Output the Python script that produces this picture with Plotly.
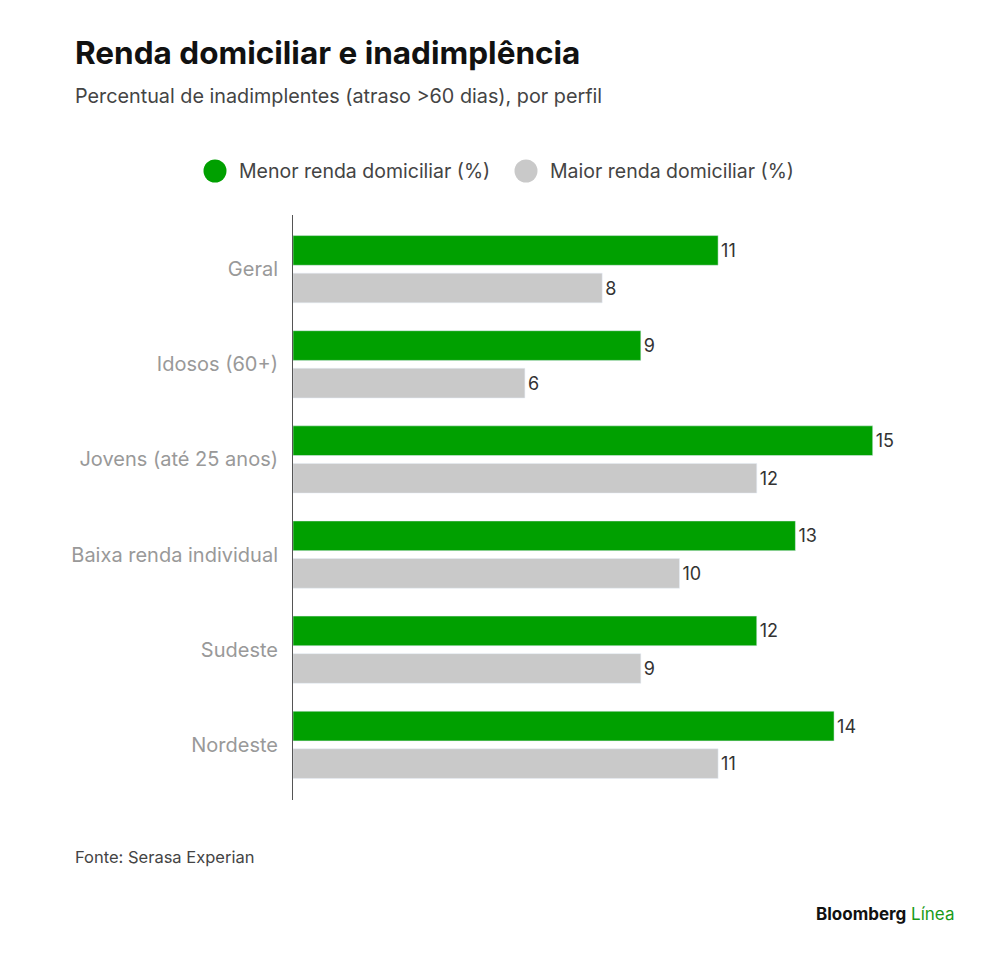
import plotly.graph_objects as go

perfis = ["Geral", "Idosos (60+)", "Jovens (até 25 anos)", "Baixa renda individual", "Sudeste", "Nordeste"]
menor_renda = [11, 9, 15, 13, 12, 14]
maior_renda = [8, 6, 12, 10, 9, 11]
series = ["Menor renda domiciliar (%)", "Maior renda domiciliar (%)"]

verde = "#00a000"
cinza = "#c9c9c9"
fonte = "Inter"

# área do gráfico em px (referência): x 293..950, y 215..800
def px_x(p):
    return (p - 293) / 657


def px_y(p):
    return 1 + (215 - p) / 585


fig = go.Figure()
fig.add_trace(go.Bar(y=perfis, x=menor_renda, orientation="h", marker_color=verde, name=series[0],
                     text=menor_renda, textposition="outside", cliponaxis=False,
                     textfont=dict(size=18, color="#333333"), showlegend=False))
fig.add_trace(go.Bar(y=perfis, x=maior_renda, orientation="h", marker_color=cinza, name=series[1],
                     text=maior_renda, textposition="outside", cliponaxis=False,
                     textfont=dict(size=18, color="#333333"), showlegend=False))

fig.update_layout(
    width=1000, height=958,
    plot_bgcolor="white", paper_bgcolor="white",
    font=dict(family=fonte, color="#333333"),
    margin=dict(l=285, r=58, t=207, b=166),
    barmode="group", bargap=0.21, bargroupgap=0.21,
    xaxis=dict(range=[0, 17], visible=False),
    yaxis=dict(type="category", categoryorder="array", categoryarray=perfis,
               range=[5.58, -0.57], showline=True, linecolor="#555555", linewidth=1,
               ticks="", ticklabelstandoff=10, showgrid=False,
               tickfont=dict(size=20, color="#999999")),
    showlegend=False,
)

# legenda desenhada à mão (círculos grandes)
for nome, cor, cx, tx in [(series[0], verde, 215, 237), (series[1], cinza, 526, 548)]:
    fig.add_shape(type="circle", xref="paper", yref="paper",
                  xsizemode="pixel", ysizemode="pixel",
                  xanchor=px_x(cx), yanchor=px_y(171),
                  x0=-11.5, x1=11.5, y0=-11.5, y1=11.5,
                  fillcolor=cor, line=dict(width=0))
    fig.add_annotation(text=nome, xref="paper", yref="paper", x=px_x(tx), y=px_y(171),
                       xanchor="left", yanchor="middle", showarrow=False,
                       font=dict(size=19.5, color="#444444"))

fig.add_annotation(text="<b>Renda domiciliar e inadimplência</b>", xref="paper", yref="paper",
                   x=px_x(73), y=px_y(52), xanchor="left", yanchor="middle",
                   showarrow=False, font=dict(size=31.5, color="#111111"))
fig.add_annotation(text="Percentual de inadimplentes (atraso >60 dias), por perfil", xref="paper", yref="paper",
                   x=px_x(73), y=px_y(96), xanchor="left", yanchor="middle",
                   showarrow=False, font=dict(size=19.8, color="#444444"))
fig.add_annotation(text="Fonte: Serasa Experian", xref="paper", yref="paper",
                   x=px_x(73), y=px_y(857), xanchor="left", yanchor="middle",
                   showarrow=False, font=dict(size=16.5, color="#444444"))
fig.add_annotation(text="<b>Bloomberg</b> <span style='color:#1a9a1a'>Línea</span>", xref="paper", yref="paper",
                   x=px_x(957), y=px_y(914), xanchor="right", yanchor="middle",
                   showarrow=False, font=dict(size=17, color="#111111"))

fig.write_html("out.html")
